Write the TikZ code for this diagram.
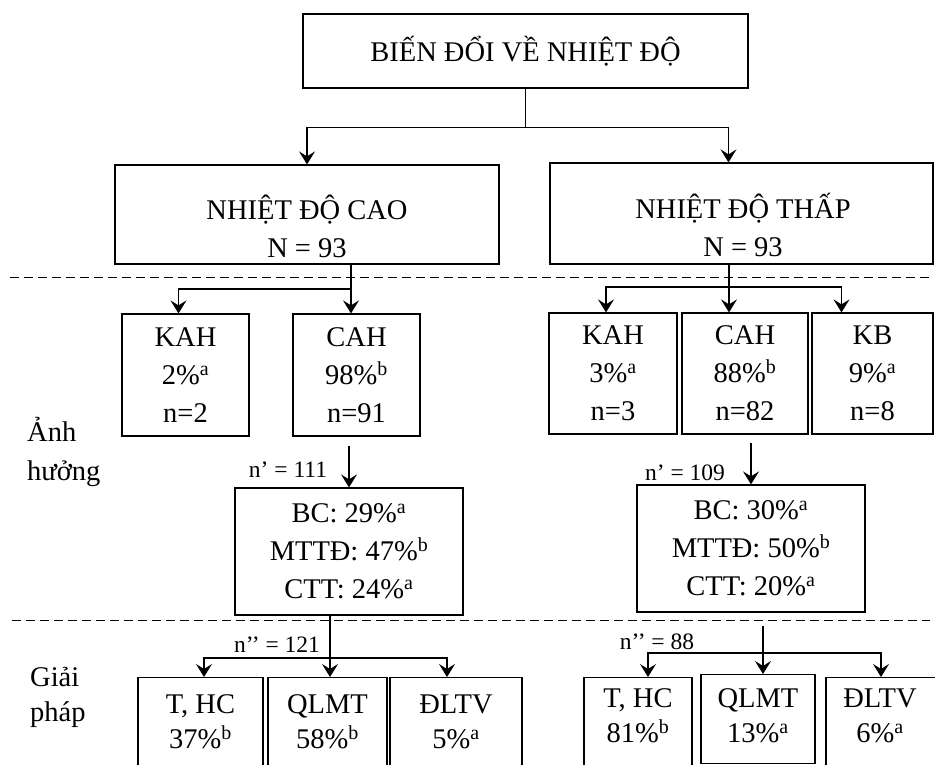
\documentclass[tikz,border=0pt]{standalone}
\usepackage{fontspec}
\setmainfont{Liberation Serif}
\usetikzlibrary{arrows.meta}

\tikzset{
  box/.style={draw, line width=1.2pt, align=center, inner sep=0pt,
    font=\fontsize{28.5}{38}\selectfont},
  txt/.style={align=center, inner sep=0pt, font=\fontsize{28.5}{38}\selectfont},
  nlbl/.style={inner sep=0pt, font=\fontsize{23.5}{24}\selectfont},
  side/.style={align=left, anchor=west, inner sep=0pt, font=\fontsize{28.5}{39}\selectfont},
  arr/.style={-{Stealth[length=13pt,width=16pt,inset=5pt]}, line width=1.2pt},
  divline/.style={dash pattern=on 9pt off 5pt, line width=1pt}
}

\begin{document}
\begin{tikzpicture}[x=1pt,y=-1pt]
  \useasboundingbox (0,0) rectangle (935,765);
  \clip (0,0) rectangle (935,765);

  % top level
  \node[box, minimum width=445, minimum height=74] (top) at (525.5,51) {BIẾN ĐỔI VỀ NHIỆT ĐỘ};
  \node[box, minimum width=384, minimum height=99] (cao) at (307,214.5) {};
  \node[txt] (caotxt) at (307,226) {NHIỆT ĐỘ CAO\\N = 93};
  \node[box, minimum width=383, minimum height=101] (thap) at (741.5,213.5) {};
  \node[txt] (thaptxt) at (743,225) {NHIỆT ĐỘ THẤP\\N = 93};

  \draw (top.south) -- ++(0,39) coordinate (j1);
  \draw[arr] (j1) -| (cao.north);
  \draw[arr] (j1) -| ([xshift=-13pt]thap.north);

  % separators
  \draw[divline] (10,277) -- (930,277);
  \draw[divline] (12,620) -- (930,620);

  % anh huong
  \node[side] (anh) at (27,452) {Ảnh\\hưởng};
  \node[box, minimum width=127, minimum height=122] (kah1) at (185.5,375) {KAH\\2\%\textsuperscript{a}\\n=2};
  \node[box, minimum width=127, minimum height=122] (cah1) at (356.5,375) {CAH\\98\%\textsuperscript{b}\\n=91};
  \node[box, minimum width=128, minimum height=121] (kah2) at (613,373.5) {KAH\\3\%\textsuperscript{a}\\n=3};
  \node[box, minimum width=126, minimum height=121] (cah2) at (745,373.5) {CAH\\88\%\textsuperscript{b}\\n=82};
  \node[box, minimum width=121, minimum height=121] (kb) at (872.5,373.5) {KB\\9\%\textsuperscript{a}\\n=8};

  \coordinate (j2) at (351,289);
  \draw[arr] (cao.south -| j2) -- (cah1.north -| j2);
  \draw[arr] (j2) -| ([xshift=-7pt]kah1.north);
  \coordinate (j3) at (729,287);
  \draw[arr] (thap.south -| j3) -- (cah2.north -| j3);
  \draw[arr] (j3) -| ([xshift=-7pt]kah2.north);
  \draw[arr] (j3) -| ([xshift=-31pt]kb.north);

  \node[box, minimum width=228, minimum height=127] (bc1) at (349,551.5)
    {BC: 29\%\textsuperscript{a}\\MTTĐ: 47\%\textsuperscript{b}\\CTT: 24\%\textsuperscript{a}};
  \node[box, minimum width=228, minimum height=127] (bc2) at (751,548.5)
    {BC: 30\%\textsuperscript{a}\\MTTĐ: 50\%\textsuperscript{b}\\CTT: 20\%\textsuperscript{a}};
  \node[nlbl] (n1) at (288,470) {n’ = 111};
  \node[nlbl] (n2) at (685,473) {n’ = 109};
  \draw[arr] ([yshift=-9pt]cah1.south -| bc1.north) -- (bc1.north);
  \draw[arr] ([yshift=-8pt]cah2.south -| bc2.north) -- (bc2.north);

  % giai phap
  \node[side, font=\fontsize{28.5}{35}\selectfont] (giai) at (30,697) {Giải\\pháp};
  \node[box, anchor=north, minimum width=125, minimum height=100] (thc1) at (200.5,677) {};
  \node[box, anchor=north, minimum width=119, minimum height=100] (qlmt1) at (327.5,677) {};
  \node[box, anchor=north, minimum width=132, minimum height=100] (dltv1) at (456,677) {};
  \node[box, anchor=north, minimum width=108, minimum height=100] (thc2) at (638,677) {};
  \node[box, anchor=north, minimum width=114, minimum height=89] (qlmt2) at (758,674) {};
  \node[box, anchor=north, minimum width=114, minimum height=100] (dltv2) at (883,677) {};
  \node[txt, font=\fontsize{28.5}{35}\selectfont] (thc1txt) at (200.5,722) {T, HC\\37\%\textsuperscript{b}};
  \node[txt, font=\fontsize{28.5}{35}\selectfont] (qlmt1txt) at (327.5,722) {QLMT\\58\%\textsuperscript{b}};
  \node[txt, font=\fontsize{28.5}{35}\selectfont] (dltv1txt) at (456,722) {ĐLTV\\5\%\textsuperscript{a}};
  \node[txt, font=\fontsize{28.5}{35}\selectfont] (thc2txt) at (638,716) {T, HC\\81\%\textsuperscript{b}};
  \node[txt, font=\fontsize{28.5}{35}\selectfont] (qlmt2txt) at (758,716) {QLMT\\13\%\textsuperscript{a}};
  \node[txt, font=\fontsize{28.5}{35}\selectfont] (dltv2txt) at (880,716) {ĐLTV\\6\%\textsuperscript{a}};
  \node[nlbl] (n3) at (277,645) {n’’ = 121};
  \node[nlbl] (n4) at (657,642) {n’’ = 88};

  \coordinate (j4) at (330,658);
  \draw[arr] (bc1.south -| j4) -- (qlmt1.north -| j4);
  \draw[arr] (j4) -| ([xshift=3.5pt]thc1.north);
  \draw[arr] (j4) -| ([xshift=-9pt]dltv1.north);
  \coordinate (j5) at (763,653);
  \draw[arr] ([yshift=-13pt]bc2.south -| j5) -- (qlmt2.north -| j5);
  \draw[arr] (j5) -| ([xshift=10pt]thc2.north);
  \draw[arr] (j5) -| ([xshift=-2pt]dltv2.north);
\end{tikzpicture}
\end{document}
